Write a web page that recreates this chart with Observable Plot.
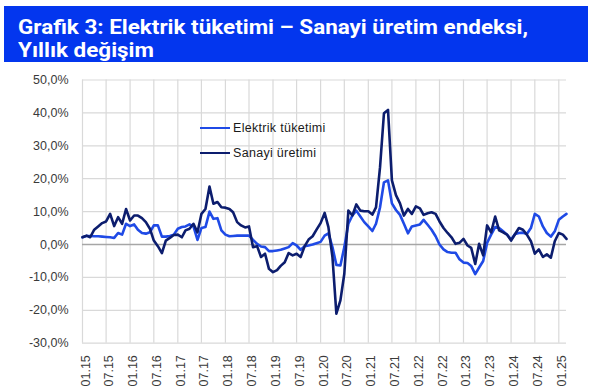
<!DOCTYPE html>
<html><head><meta charset="utf-8">
<script src="https://cdn.jsdelivr.net/npm/d3@7"></script>
<script src="https://cdn.jsdelivr.net/npm/@observablehq/plot@0.6"></script>
<style>
body{margin:0;background:#fff;}
#wrap{position:relative;width:594px;height:389px;overflow:hidden;font-family:"Liberation Sans",Arial,sans-serif;}
#title{position:absolute;left:4px;top:6px;width:584px;height:56px;background:#0336ee;}
#title div{position:absolute;left:14px;color:#fff;font-family:Roboto,sans-serif;font-weight:700;font-size:21px;line-height:21px;white-space:nowrap;transform-origin:0 0;}
#chart{position:absolute;left:0;top:65px;}
.leg{position:absolute;left:200px;height:20px;display:flex;align-items:center;font-size:12.5px;color:#1a1a1a;letter-spacing:0.3px;}
.leg span.sw{display:inline-block;width:30px;height:2.5px;margin-right:3px;}
</style></head>
<body>
<div id="wrap">
  <div id="title"><div id="t1">Grafik 3: Elektrik tüketimi – Sanayi üretim endeksi,</div><div id="t2">Yıllık değişim</div></div>
  <div id="chart"></div>
  <div class="leg" id="leg1" style="top:118px"><span class="sw" style="background:#1f4ae6"></span>Elektrik tüketimi</div>
  <div class="leg" id="leg2" style="top:143px"><span class="sw" style="background:#0c1d6e"></span>Sanayi üretimi</div>
</div>
<script>
// Monthly series, Jan 2015 .. Mar 2025 (year-on-year change, %)
const startMonth = "2015-01-01";
const elektrik = [
 2.2,2.6,2.6,2.5,2.5,2.4,2.3,2.2,2.0,3.5,3.0,6.3,
 5.6,6.1,4.5,3.5,3.3,3.7,5.8,5.8,2.4,2.4,2.6,3.0,
 4.8,5.3,5.5,6.1,5.5,1.4,5.0,5.3,10.0,7.8,8.0,4.3,
 3.0,2.5,2.6,2.7,2.7,2.7,2.7,1.4,0.2,-0.6,-0.8,-2.0,
 -2.0,-1.8,-1.6,-1.2,-0.8,0.4,-0.3,-1.6,-0.5,-0.3,0.0,0.4,
 0.8,2.7,3.4,-0.8,-6.2,-6.4,-0.8,6.3,8.8,10.3,8.5,6.8,
 5.5,4.1,6.3,11.3,18.9,19.5,12.5,10.5,9.0,6.3,3.4,5.5,
 5.8,6.1,7.5,6.0,4.5,2.5,0.0,-1.5,-2.3,-2.5,-2.5,-4.5,
 -5.5,-5.6,-6.5,-9.0,-7.0,-5.0,0.5,3.0,5.3,5.0,4.0,3.0,
 1.5,3.2,3.5,3.6,3.2,5.0,9.3,8.5,5.5,3.5,2.4,4.0,
 7.5,8.5,9.3
];
const sanayi = [
 2.2,2.7,2.2,4.5,5.5,6.5,7.0,9.3,5.6,8.3,6.3,10.8,
 7.3,8.8,8.8,8.0,6.8,4.8,1.2,-0.5,-2.6,1.2,2.0,2.9,
 3.0,2.2,4.3,4.8,6.3,3.7,9.3,10.8,17.6,12.4,12.9,11.3,
 11.2,10.8,9.8,6.8,5.8,5.2,5.5,-0.8,-0.5,-3.8,-2.8,-7.4,
 -8.4,-7.8,-6.5,-5.4,-2.6,-3.3,-2.8,-3.8,-0.5,1.5,2.5,4.5,
 6.5,9.6,5.3,-3.8,-21.0,-17.0,-8.9,10.3,8.8,12.2,10.3,10.1,
 10.1,9.1,11.3,23.5,39.9,40.9,19.5,15.0,12.5,8.8,10.8,9.3,
 11.6,11.0,9.0,9.5,9.8,9.3,7.0,5.0,3.5,2.2,0.2,0.5,
 1.7,-0.3,-1.0,-5.9,0.2,-3.3,5.8,3.7,8.5,4.3,3.7,3.0,
 1.2,3.2,5.0,4.5,3.0,1.0,-2.8,-1.5,-3.8,-3.0,-4.0,1.0,
 3.5,3.0,1.7
];
const seriesNames = ["Elektrik tüketimi", "Sanayi üretimi"];
const yTicks = [-30,-20,-10,0,10,20,30,40,50];

const start = new Date(startMonth + "T00:00:00Z");
const toRows = (arr) => arr.map((v, i) => ({date: d3.utcMonth.offset(start, i), v}));
const rowsE = toRows(elektrik);
const rowsS = toRows(sanayi);
const end = rowsE[rowsE.length - 1].date;
const xTicks = d3.utcMonth.every(6).range(start, d3.utcDay.offset(end, 1));

const chart = Plot.plot({
  width: 594, height: 324,
  marginTop: 14.5, marginBottom: 46.3, marginLeft: 82, marginRight: 28,
  style: {fontFamily: "'Liberation Sans', Arial, sans-serif", fontSize: "12px", color: "#3a3a3a", background: "transparent", overflow: "visible"},
  x: {type: "utc", domain: [start, end]},
  y: {domain: [-30, 50]},
  marks: [
    Plot.gridY(yTicks, {stroke: "#d9d9d9", strokeOpacity: 1, strokeWidth: 1.2}),
    Plot.gridX(xTicks, {stroke: "#d9d9d9", strokeOpacity: 1, strokeWidth: 1.2}),
    Plot.ruleY([0], {stroke: "#a6a6a6", strokeWidth: 1.6}),
    Plot.lineY(rowsE, {x: "date", y: "v", stroke: "#1f4ae6", strokeWidth: 2.6}),
    Plot.lineY(rowsS, {x: "date", y: "v", stroke: "#0c1d6e", strokeWidth: 2.6}),
    Plot.axisY(yTicks, {label: null, tickSize: 0, tickPadding: 14, tickFormat: d => d.toFixed(1).replace(".", ",") + "%", fontSize: 12.5}),
    Plot.axisX(xTicks, {label: null, tickSize: 0, tickPadding: 12, tickRotate: -90, dx: 3, tickFormat: d3.utcFormat("%m.%y"), fontSize: 12.5})
  ]
});
document.getElementById("chart").appendChild(chart);

// fit title to the reference width
const t1 = document.getElementById("t1"), t2 = document.getElementById("t2");
t1.style.top = "11px"; t2.style.top = "34px";
const w = t1.getBoundingClientRect().width;
const s = 510 / w;
t1.style.transform = `scaleX(${s})`;
t2.style.transform = `scaleX(${s})`;
</script>
</body></html>
